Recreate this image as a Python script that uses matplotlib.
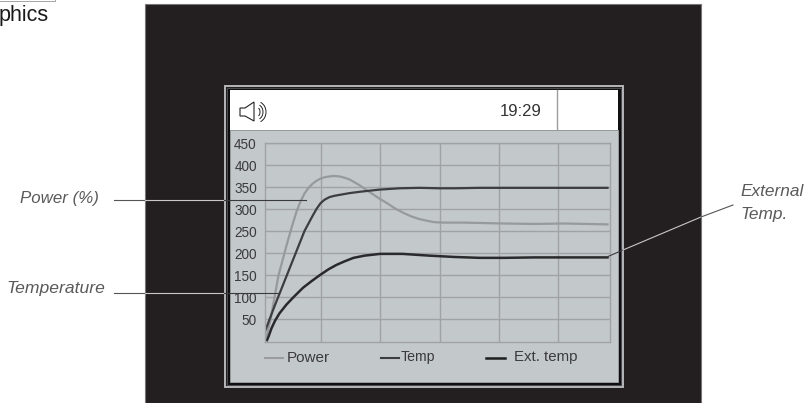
import matplotlib
matplotlib.use("Agg")
import matplotlib.pyplot as plt
from matplotlib.patches import Rectangle, Polygon, Arc

plt.rcParams['font.family'] = ['Liberation Sans', 'DejaVu Sans']

y_ticks = [50, 100, 150, 200, 250, 300, 350, 400, 450]
x_grid = [56, 115.5, 175, 234, 293.5]

power_x = [1, 3, 6, 10, 14, 18, 22, 27, 32, 36, 40, 44, 48, 52, 56, 60, 65, 70, 75, 80, 85, 89, 95, 102, 110, 116, 122, 130, 139, 147, 155, 163, 170, 180, 200, 240, 270, 300, 343]
power_v = [5, 20, 50, 100, 150, 184, 218, 258, 295, 318, 336, 349, 358, 365, 370, 373, 375, 376, 375, 372, 368, 363, 355, 344, 332, 323, 315, 303, 292, 284, 278, 274, 271, 270, 270, 268, 267, 268, 266]

temp_x = [1, 10, 20, 30, 40, 48, 52, 56, 60, 65, 70, 75, 85, 95, 115, 135, 155, 175, 190, 215, 240, 280, 343]
temp_v = [26, 80, 137, 194, 251, 285, 301, 314, 322, 328, 331, 333, 337, 340, 345, 348, 349, 348, 348, 349, 349, 349, 349]

ext_x = [2.5, 4, 7, 10.5, 15, 22, 30, 38.5, 47, 55.5, 64, 72, 80, 89, 100, 115.5, 138, 165, 190, 215, 240, 270, 300, 343]
ext_v = [3, 11, 30, 47, 64, 84, 103, 122, 137, 151, 164, 174, 182, 190, 195, 199, 199, 195, 192, 190, 190, 191, 191, 191]

W, H = 808, 403
fig = plt.figure(figsize=(W / 100, H / 100), dpi=100, facecolor='white')

bg = fig.add_axes([0, 0, 1, 1], zorder=0)
bg.set_xlim(0, W); bg.set_ylim(H, 0); bg.axis('off')

def rect(ax, x0, y0, x1, y1, fc, ec='none', lw=0):
    ax.add_patch(Rectangle((x0, y0), x1 - x0, y1 - y0, fc=fc, ec=ec, lw=lw))

rect(bg, 145, 3.5, 701, 403, '#231f20', ec='#77777a', lw=0.8)
rect(bg, 224.5, 85.5, 622.5, 387, '#231f20', ec='#b5b7b9', lw=1.4)
rect(bg, 226.5, 87.5, 620.5, 385, '#0f0f0f', ec='#55565a', lw=0.6)
rect(bg, 229.5, 130, 618, 381.5, '#c3c8cb', ec='#9ea2a4', lw=0.6)
rect(bg, 229.5, 90, 618, 130, 'white')
bg.plot([556.5, 556.5], [90, 130], color='#9a9c9e', lw=1.0)
bg.text(521, 112, '19:29', ha='center', va='center', fontsize=12, color='#333333')

# speaker icon
bg.add_patch(Polygon([[240, 108], [240, 116], [245, 116], [254, 121], [254, 102], [245, 108]],
                     closed=True, fc='white', ec='#222222', lw=0.8))
for r in (3, 6, 9):
    bg.add_patch(Arc((257, 112), 2 * r, 2 * r + 3, theta1=-70, theta2=70, ec='#222222', lw=0.7))

bg.text(-1, 21, 'phics', ha='left', va='baseline', fontsize=15.5, color='#1a1a1a')
bg.add_patch(Rectangle((-5, -4), 60, 5.2, fc='white', ec='#a5a5a5', lw=0.7))

# chart
L, R, T, B = 264.5, 610, 142.5, 341.5
ax = fig.add_axes([L / W, 1 - B / H, (R - L) / W, (B - T) / H], zorder=1)
ax.set_facecolor('none')
ax.set_xlim(0, R - L); ax.set_ylim(0, 452)
ax.set_xticks(x_grid); ax.set_yticks(y_ticks)
ax.set_xticklabels([])
ax.set_yticklabels([str(v) for v in y_ticks], fontsize=9.8, color='#3a3a3a')
ax.tick_params(length=0, pad=5.5)
ax.grid(True, color='#a0a3a6', lw=1.0)
ax.set_axisbelow(True)
for s in ax.spines.values():
    s.set_color('#a0a3a6'); s.set_linewidth(1.0)
ax.plot(power_x, power_v, color='#979a9c', lw=1.6, solid_joinstyle='round')
ax.plot(temp_x, temp_v, color='#3c3d3f', lw=1.6, solid_joinstyle='round')
ax.plot(ext_x, ext_v, color='#2a2a2c', lw=1.8, solid_joinstyle='round')

# overlay: legend keys and callouts
top = fig.add_axes([0, 0, 1, 1], zorder=2)
top.set_xlim(0, W); top.set_ylim(H, 0); top.axis('off'); top.patch.set_alpha(0)

top.plot([264.5, 282.5], [357.5, 357.5], color='#9a9c9e', lw=1.5)
top.text(286.5, 357.5, 'Power', va='center', fontsize=11, color='#3a3a3a')
top.plot([381, 399], [357.5, 357.5], color='#3c3d3f', lw=1.5)
top.text(401, 357.5, 'Temp', va='center', fontsize=10.2, color='#3a3a3a')
top.plot([486, 505], [357.5, 357.5], color='#1f1f1f', lw=1.8)
top.text(514, 357.5, 'Ext. temp', va='center', fontsize=10.8, color='#3a3a3a')

lead_dark = '#3a3a3c'
top.plot([114, 145], [199.5, 199.5], color='#555555', lw=0.8)
top.plot([145, 224], [199.5, 199.5], color='#c8c8c8', lw=0.8)
top.plot([224, 306], [199.5, 199.5], color=lead_dark, lw=0.8)
top.plot([114, 145], [293, 293], color='#555555', lw=0.8)
top.plot([145, 224], [293, 293], color='#c8c8c8', lw=0.8)
top.plot([224, 279], [293, 293], color=lead_dark, lw=0.8)
top.plot([608, 623], [256.5, 250], color=lead_dark, lw=0.8)
top.plot([623, 701], [250, 217], color='#c8c8c8', lw=0.8)
top.plot([701, 733], [217, 205], color='#555555', lw=0.8)

for txt, x, y, size, ha in [('Power (%)', 99, 199, 12.2, 'right'), ('Temperature', 105, 288, 12.6, 'right'),
                            ('External', 740, 191, 12.4, 'left'), ('Temp.', 740, 214, 12.4, 'left')]:
    top.text(x, y, txt, ha=ha, va='center', fontsize=size, style='italic', color='#5a5a5c')

fig.savefig('out.png', dpi=100, facecolor='white')
